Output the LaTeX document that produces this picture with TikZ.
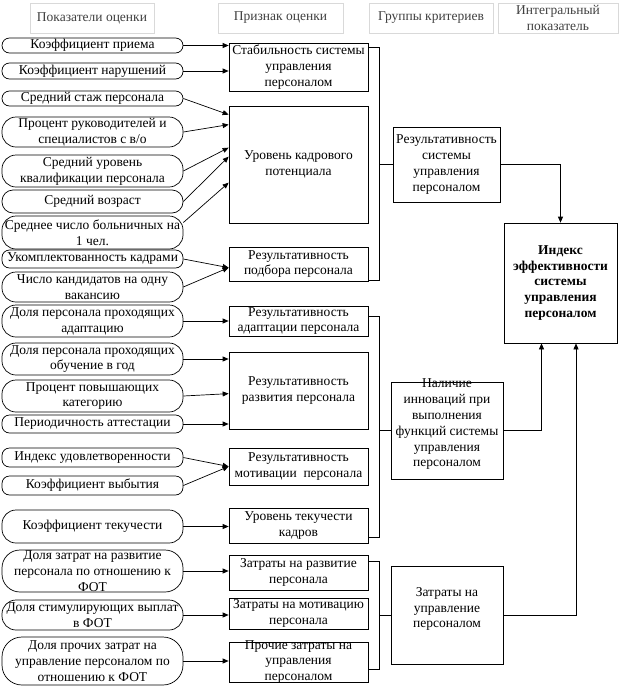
\documentclass[tikz,border=0pt]{standalone}
\usepackage{fontspec}
\setmainfont{Liberation Serif}
\usetikzlibrary{arrows.meta}
\tikzset{
 base/.style={font=\fontsize{13.5}{15.8}\selectfont, align=center, inner sep=0pt, line width=0.7pt},
 hdr/.style={base, draw=black!15, text=black!75, line width=0.8pt, minimum height=30pt},
 oval/.style={base, draw, rounded corners=14pt, minimum width=181pt},
 sov/.style={oval, rounded corners=7.5pt},
 mbox/.style={base, draw, minimum width=139pt},
 rbox/.style={base, draw},
 arr/.style={-{Triangle[length=6pt,width=5pt]}, line width=0.7pt},
 ln/.style={line width=0.7pt}
}
\begin{document}
\begin{tikzpicture}[x=1pt,y=-1pt]
\useasboundingbox (0,0) rectangle (621,691);
% headers
\node[hdr, minimum width=124pt] (h1) at (92,18) {Показатели оценки};
\node[hdr, minimum width=125pt] (h2) at (280.5,18) {Признак оценки};
\node[hdr, minimum width=124pt] (h3) at (431,18) {Группы критериев};
\node[hdr, minimum width=120pt] (h4) at (558,18) {Интегральный\\показатель};
% ovals
\node[sov, minimum height=15pt] (o1) at (92.5,45.5) {Коэффициент приема};
\node[sov, minimum height=16pt] (o2) at (92.5,71) {Коэффициент нарушений};
\node[sov, minimum height=15pt] (o3) at (92.5,98.5) {Средний стаж персонала};
\node[oval, minimum height=30pt] (o4) at (92.5,132) {Процент руководителей и\\специалистов с в/о};
\node[oval, minimum height=32pt] (o5) at (92.5,171) {Средний уровень\\квалификации персонала};
\node[oval, rounded corners=11pt, minimum height=23pt] (o6) at (92.5,201.5) {Средний возраст};
\node[oval, minimum height=33pt] (o7) at (92.5,232.5) {Среднее число больничных на\\1 чел.};
\node[sov, minimum height=18pt] (o8) at (92.5,259) {Укомплектованность кадрами};
\node[oval, minimum height=30pt] (o9) at (92.5,287) {Число кандидатов на одну\\вакансию};
\node[oval, minimum height=32pt] (o10) at (92.5,321) {Доля персонала проходящих\\адаптацию};
\node[oval, minimum height=32pt] (o11) at (92.5,359) {Доля персонала проходящих\\обучение в год};
\node[oval, minimum height=32pt] (o12) at (92.5,396) {Процент повышающих\\категорию};
\node[sov, minimum height=18pt] (o13) at (92.5,424) {Периодичность аттестации};
\node[sov, minimum height=19pt] (o14) at (92.5,457.5) {Индекс удовлетворенности};
\node[sov, minimum height=19pt] (o15) at (92.5,485.5) {Коэффициент выбытия};
\node[oval, minimum height=33pt] (o16) at (92.5,526.5) {Коэффициент текучести};
\node[oval, rounded corners=18pt, minimum height=42pt] (o17) at (92.5,571) {};
\node[base] (o17t) at (o17.center) {Доля затрат на развитие\\персонала по отношению к\\ФОТ};
\node[oval, minimum height=30pt] (o18) at (92.5,615) {Доля стимулирующих выплат\\в ФОТ};
\node[oval, rounded corners=20pt, minimum height=48pt] (o19) at (92.5,661) {Доля прочих затрат на\\управление персоналом по\\отношению к ФОТ};
% middle boxes
\node[mbox, minimum height=48pt] (m1) at (298.5,67) {Стабильность системы\\управления\\персоналом};
\node[mbox, minimum height=117pt] (m2) at (298.5,164.5) {Уровень кадрового\\потенциала};
\node[mbox, minimum height=34pt] (m3) at (298.5,264) {Результативность\\подбора персонала};
\node[mbox, minimum height=30pt] (m4) at (298.5,321) {Результативность\\адаптации персонала};
\node[mbox, minimum height=77pt] (m5) at (298.5,390.5) {Результативность\\развития персонала};
\node[mbox, minimum height=37pt] (m6) at (298.5,466.5) {Результативность\\мотивации\ \ персонала};
\node[mbox, minimum height=35pt] (m7) at (298.5,525.5) {Уровень текучести\\кадров};
\node[mbox, minimum height=35pt] (m8) at (298.5,572.5) {Затраты на развитие\\персонала};
\node[mbox, minimum height=31pt] (m9) at (298.5,613.5) {Затраты на мотивацию\\персонала};
\node[mbox, minimum height=40pt] (m10) at (298.5,662) {};
\node[base] (m10t) at (m10.center) {Прочие затраты на\\управления\\персоналом};
% right boxes
\node[rbox, minimum width=107pt, minimum height=75pt] (r1) at (446.5,164.5) {Результативность\\системы\\управления\\персоналом};
\node[rbox, minimum width=112pt, minimum height=97pt] (r2) at (447,430.5) {};
\node[base] (r2t) at ([yshift=6pt]r2.center) {Наличие\\инноваций при\\выполнения\\функций системы\\управления\\персоналом};
\node[rbox, minimum width=112pt, minimum height=98pt] (r3) at (447,615) {};
\node[base] (r3t) at ([yshift=6pt]r3.center) {Затраты на\\управление\\персоналом};
\node[rbox, minimum width=113pt, minimum height=120pt, font={\fontsize{13.5}{15.8}\selectfont\bfseries}] (ix) at (560.5,283) {Индекс\\эффективности\\системы\\управления\\персоналом};
% oval -> box arrows
\draw[arr] (o1.east) -- (m1.west |- o1.east);
\draw[arr] (o2.east) -- (m1.west |- o2.east);
\draw[arr] (o3.east) -- ([yshift=-9pt]m2.north west);
\draw[arr] (o4.east) -- ([yshift=-19pt]m2.north west);
\draw[arr] (o5.east) -- ([yshift=-42pt]m2.north west);
\draw[arr] (o6.east) -- ([yshift=-51pt]m2.north west);
\draw[arr] ([yshift=10pt]o7.east) -- ([yshift=-77pt]m2.north west);
\draw[arr] (o8.east) -- ([yshift=-21pt]m3.north west);
\draw[arr] (o9.east) -- ([yshift=-21pt]m3.north west);
\draw[arr] (o10.east) -- (m4.west);
\draw[arr] (o11.east) -- (m5.west |- o11.east);
\draw[arr] (o12.east) -- ([yshift=-42pt]m5.north west);
\draw[arr] (o13.east) -- (m5.west |- o13.east);
\draw[arr] (o14.east) -- (m6.west);
\draw[arr] (o15.east) -- (m6.west);
\draw[arr] (o16.east) -- (m7.west |- o16.east);
\draw[arr] (o17.east) -- (m8.west |- o17.east);
\draw[arr] (o18.east) -- (m9.west |- o18.east);
\draw[arr] (o19.east) -- (m10.west |- o19.east);
% brackets
\coordinate (b1t) at (379,47);
\coordinate (b1b) at (379,280);
\draw[ln] (m1.east |- b1t) -- (b1t) -- (b1b) -- (m3.east |- b1b);
\draw[ln] (b1t |- r1.west) -- (r1.west);
\coordinate (b2t) at (379,316);
\coordinate (b2b) at (379,537);
\draw[ln] (m4.east |- b2t) -- (b2t) -- (b2b) -- (m7.east |- b2b);
\draw[ln] (b2t |- r2.west) -- (r2.west);
\coordinate (b3t) at (379,561);
\coordinate (b3b) at (379,669);
\draw[ln] (m8.east |- b3t) -- (b3t) -- (b3b) -- (m10.east |- b3b);
\draw[ln] (b3t |- r3.west) -- (r3.west);
% to index
\draw[arr] (r1.east) -| (ix.north);
\draw[arr] (r2.east) -| ([xshift=-19pt]ix.south);
\draw[arr] (r3.east) -| ([xshift=15.5pt]ix.south);
\end{tikzpicture}
\end{document}
